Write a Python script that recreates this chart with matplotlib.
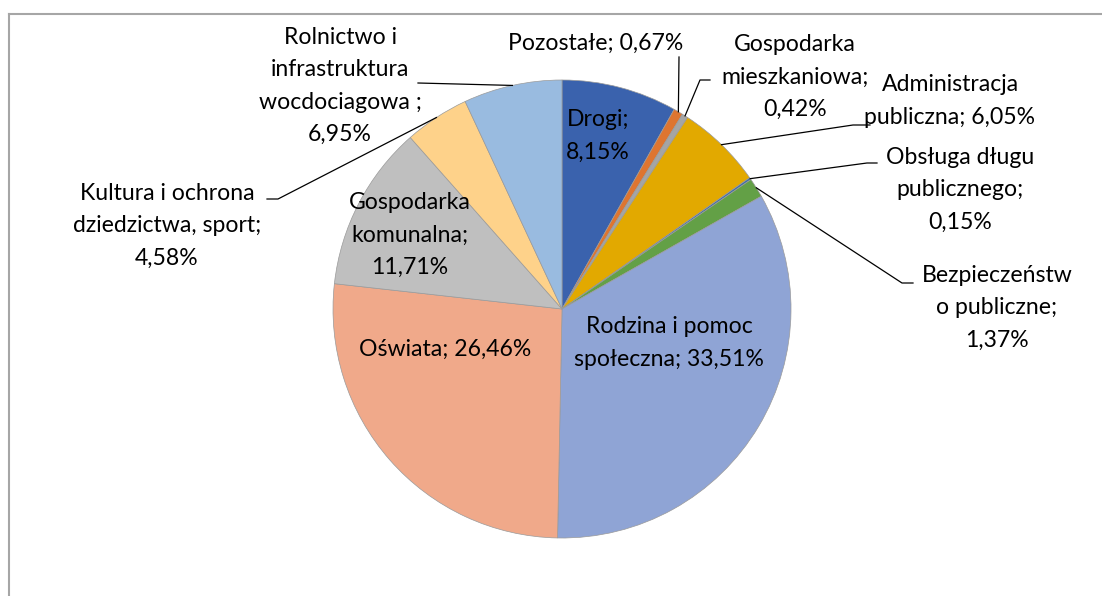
import numpy as np
import matplotlib
matplotlib.use("Agg")
import matplotlib.pyplot as plt

# dane
categories = ["Drogi", "Pozostałe", "Gospodarka\nmieszkaniowa", "Administracja\npubliczna",
              "Obsługa długu\npublicznego", "Bezpieczeństw\no publiczne", "Rodzina i pomoc\nspołeczna",
              "Oświata", "Gospodarka\nkomunalna", "Kultura i ochrona\ndziedzictwa, sport",
              "Rolnictwo i\ninfrastruktura\nwocdociagowa "]
values = [8.15, 0.67, 0.42, 6.05, 0.15, 1.37, 33.51, 26.46, 11.71, 4.58, 6.95]
colors = ["#3A62AD", "#DE7530", "#A5A5A5", "#E2A900", "#3F6FA8", "#63A046",
          "#8FA4D5", "#F0A98A", "#BFBFBF", "#FED28A", "#99BBE0"]

W, H = 1102, 596
cx, cy, R = 562, 309, 229  # piksele (y w dół)


def Y(y):
    return H - y


def fmt(v):
    return f"{v:.2f}".replace(".", ",") + "%"


# separator etykiety (";\n" lub "; ")
seps = [";\n", "; ", ";\n", "; ", ";\n", ";\n", "; ", "; ", ";\n", ";\n", ";\n"]
# pozycje etykiet (środek tekstu, piksele)
label_pos = [(598, 136), (596, 43), (795, 77), (950, 101), (960, 190), (997, 308),
             (669, 343), (445, 349), (410, 235), (167, 226), (340, 86)]
# linie odniesienia: punkty załamania (x, y) albo None
elbows = [None, (679, 57), [(710, 80), (700, 80)], [(870, 125), (853, 125)],
          [(877, 163), (867, 163)], [(913, 283), (902, 283)], None, None, None,
          [(267, 199), (278, 199)], [(418, 83)]]

plt.rcParams["font.family"] = ["Lato", "DejaVu Sans"]

fig = plt.figure(figsize=(W / 100, H / 100), dpi=100)
ax = fig.add_axes([0, 0, 1, 1])

wedges, _ = ax.pie(values, colors=colors, startangle=90, counterclock=False,
                   center=(cx, Y(cy)), radius=R,
                   wedgeprops=dict(edgecolor="#9a9a9a", linewidth=0.5))
ax.set_xlim(0, W)
ax.set_ylim(0, H)
ax.axis("off")

for i, w in enumerate(wedges):
    txt = categories[i] + seps[i] + fmt(values[i])
    lx, ly = label_pos[i]
    ax.text(lx, Y(ly), txt, ha="center", va="center", fontsize=16.6,
            linespacing=1.65, color="black")
    if elbows[i] is not None:
        ang = np.deg2rad((w.theta1 + w.theta2) / 2)
        px = cx + R * np.cos(ang)
        py = Y(cy) + R * np.sin(ang)
        pts = elbows[i] if isinstance(elbows[i], list) else [elbows[i]]
        xs = [p[0] for p in pts] + [px]
        ys = [Y(p[1]) for p in pts] + [py]
        ax.plot(xs, ys, color="black", lw=0.9)

# ramka wykresu
ax.plot([9, 9], [Y(14), -5], color="#a6a6a6", lw=1.5, clip_on=False)
ax.plot([9, W + 5], [Y(14), Y(14)], color="#a6a6a6", lw=1.5, clip_on=False)

fig.savefig("out.png", dpi=100)
